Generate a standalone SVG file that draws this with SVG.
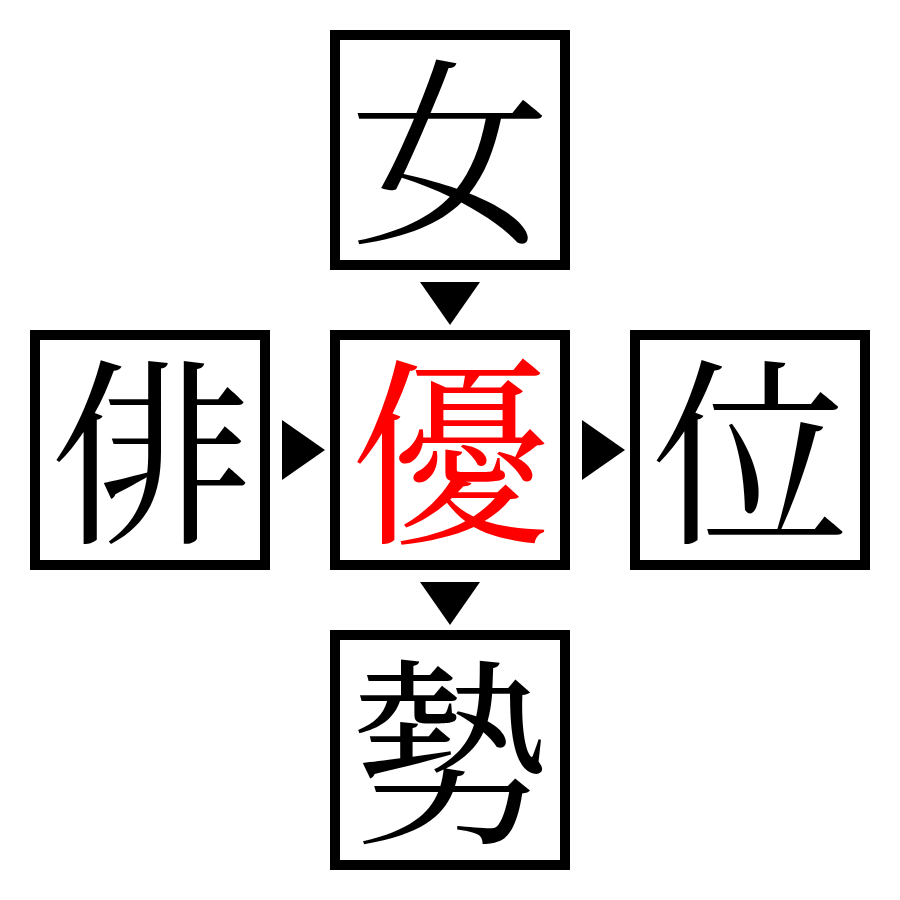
<svg xmlns="http://www.w3.org/2000/svg" width="900" height="900" viewBox="0 0 900 900">
<style>
.box{fill:#fff;stroke:#000;stroke-width:10}
.ch{font-family:"Noto Serif CJK JP","Noto Sans CJK JP",serif;font-size:200px;text-anchor:middle;dominant-baseline:central;fill:#000}
.red{fill:#ff0000}
.arr{fill:#000}
</style>
<rect width="900" height="900" fill="#fff"/>
<g id="connectors">
<polygon class="arr" points="420,282 480,282 450,325"/>
<polygon class="arr" points="420,582 480,582 450,625"/>
<polygon class="arr" points="282,420 282,480 325,450"/>
<polygon class="arr" points="582,420 582,480 625,450"/>
</g>
<g id="node-top"><rect class="box" x="335" y="35" width="230" height="230"/><text class="ch" x="450" y="141">女</text></g>
<g id="node-left"><rect class="box" x="35" y="335" width="230" height="230"/><text class="ch" x="150" y="441">俳</text></g>
<g id="node-center"><rect class="box" x="335" y="335" width="230" height="230"/><text class="ch red" x="450" y="441">優</text></g>
<g id="node-right"><rect class="box" x="635" y="335" width="230" height="230"/><text class="ch" x="750" y="441">位</text></g>
<g id="node-bottom"><rect class="box" x="335" y="635" width="230" height="230"/><text class="ch" x="450" y="741">勢</text></g>
</svg>
